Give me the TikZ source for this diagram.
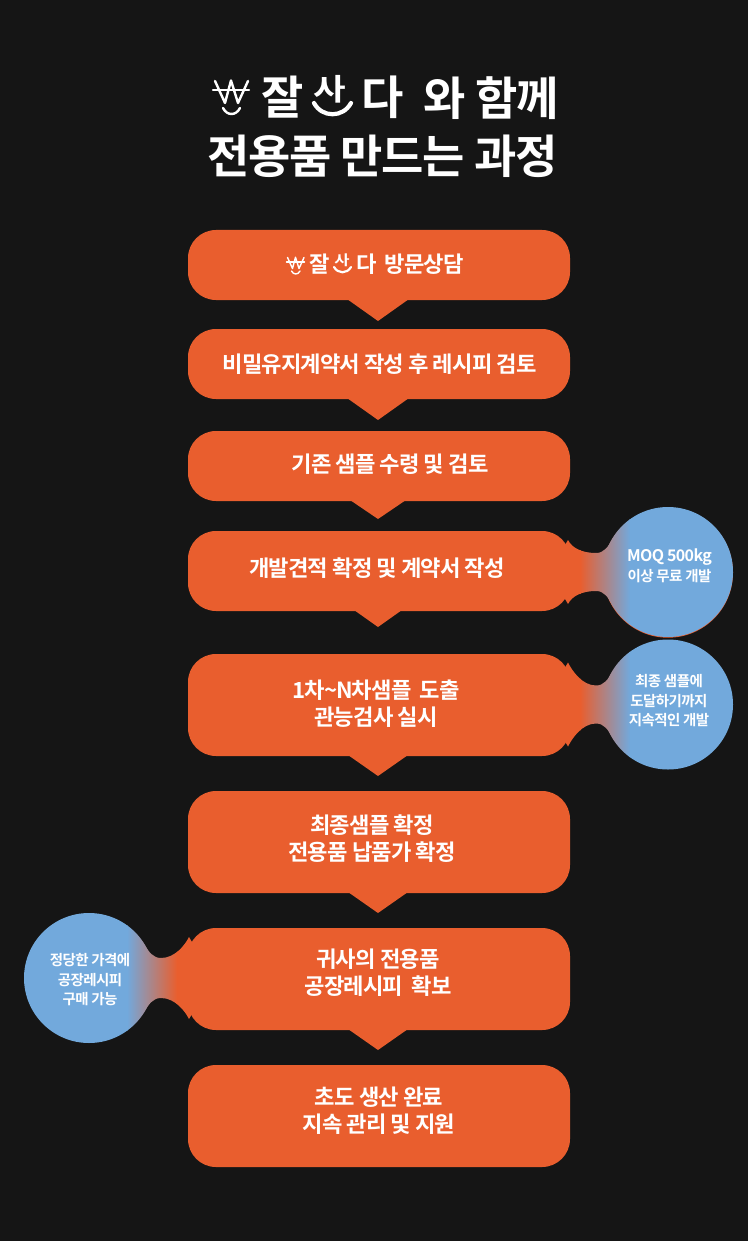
\documentclass[tikz,border=0pt]{standalone}
\usepackage{fontspec}
\setmainfont{Noto Sans CJK KR}
\newfontfamily\krb[LetterSpace=-3]{Noto Sans CJK KR Bold}
\newfontfamily\krt[LetterSpace=-4]{Noto Sans CJK KR Bold}
\newfontfamily\krwide[FakeStretch=1.18]{Noto Sans CJK KR Bold}
\definecolor{bgc}{HTML}{151515}
\definecolor{orc}{HTML}{E95E2E}
\definecolor{blc}{HTML}{72A9DC}
\tikzset{
 flowbox/.style={fill=orc,rounded corners=28pt,minimum width=382pt,inner sep=0pt,outer sep=0pt},
 boxtext/.style={text=white,align=center,inner sep=0pt,font=\krt\fontsize{22.2}{27.5}\selectfont},
 titletext/.style={text=white,align=center,inner sep=0pt,font=\krb\fontsize{46}{56}\selectfont},
 bubtext/.style={text=white,align=center,inner sep=0pt,font=\krt\fontsize{14.5}{19.5}\selectfont},
 orb/.style={circle,minimum size=130pt,inner sep=0pt,outer sep=0pt},
 logoline/.style={draw=white,line cap=round,line join=round,fill=none},
}
\newcommand{\ptr}[3]{\fill[orc] (#1.south) ++(-1-#2,-1) -- ++(#2,#3+1) -- ++(#2,-#3-1) -- cycle;}
% gradient in local coordinates (circle centre = origin); #1,#2 = page-left and page-right colours
\newcommand{\gradfill}[2]{%
 \fill[orc] (-125,-90) rectangle (-87.5,90);
 \fill[blc] (-39,-90) rectangle (70,90);
 \shade[left color=#1,right color=#2] (-88,-90) rectangle (-38,90);}
% #1 spike offset, #2 neck offset, #3 #4 colours
\newcommand{\bubshape}[4]{%
 \begin{scope}
  \clip (0,0) circle[radius=65];
  \gradfill{#3}{#4}
 \end{scope}
 \begin{scope}
  \clip (-106,-#1+10) -- (-100,-#1) .. controls (-96,-#1+8) and (-86,-#2) .. (-72,-#2)
   .. controls (-64,-#2) and (-60,-#2-6) .. (-55,-34) -- (-40,0) -- (-55,34)
   .. controls (-60,#2+6) and (-64,#2) .. (-72,#2)
   .. controls (-86,#2) and (-96,#1-8) .. (-100,#1) -- (-106,#1-10) -- cycle;
  \gradfill{#3}{#4}
 \end{scope}}
\newcommand{\wonmark}[1]{%
 \draw[logoline,line width=#1] (3,1) -- (13,23) -- (19,0.5) -- (26,23) -- (36,1);
 \draw[logoline,line width=#1] (1,10) -- (37,10);
 \draw[logoline,line width=#1] (11,28) .. controls (15,36) and (24,36) .. (28,28);}
\begin{document}
\begin{tikzpicture}[x=1pt,y=-1pt]
\useasboundingbox (0,0) rectangle (748,1241);
\fill[bgc] (0,0) rectangle (748,1241);

% title
\begin{scope}[shift={(212,80)}]\wonmark{2.4pt}\end{scope}
\node[titletext] (tja) at (283,97) {잘};
\node[titletext,font=\krwide\fontsize{30}{30}\selectfont] (tsa) at (330,89) {사};
\draw[logoline,line width=4.2pt] (314,103) .. controls (322,118) and (343,118) .. (351,103);
\node[titletext] (tda) at (383,97) {다};
\node[titletext] (t1) at (491,98) {와 함께};
\node[titletext] (t2) at (382.5,156) {전용품 만드는 과정};

% boxes
\node[flowbox,minimum height=70pt] (b1) at (379,265) {};
\node[flowbox,minimum height=70pt] (b2) at (379,364) {};
\node[flowbox,minimum height=70pt] (b3) at (379,466) {};
\node[flowbox,minimum height=80pt] (b4) at (379,571) {};
\node[flowbox,minimum height=102pt] (b5) at (379,705) {};
\node[flowbox,minimum height=102pt] (b6) at (379,842) {};
\node[flowbox,minimum height=102pt] (b7) at (379,979) {};
\node[flowbox,minimum height=102pt] (b8) at (379,1116) {};

\ptr{b1}{31}{21}
\ptr{b2}{31}{21}
\ptr{b3}{28}{18}
\ptr{b4}{24}{16}
\ptr{b5}{30}{20}
\ptr{b6}{30}{20}
\ptr{b7}{30}{20}

% bubbles
\node[orb,fill=orc] (q1) at (668,572.7) {};
\begin{scope}[shift={(668,572)}]\bubshape{32}{19}{orc}{blc}\end{scope}
\begin{scope}[shift={(668,704.5)}]\bubshape{42}{19}{orc}{blc}\end{scope}
\begin{scope}[shift={(89,978)},xscale=-1]\bubshape{41}{20}{blc}{orc}\end{scope}
\node[orb] (q2) at (668,704.5) {};
\node[orb] (q3) at (89,978) {};

\node[bubtext] (q1t) at (669.5,566) {{\fontsize{16}{19.5}\selectfont MOQ 500kg}\\이상 무료 개발};
\node[bubtext] (q2t) at (669,701) {최종 샘플에\\도달하기까지\\지속적인 개발};
\node[bubtext] (q3t) at (90,980) {정당한 가격에\\공장레시피\\구매 가능};

% box 1 logo text
\begin{scope}[shift={(286,257)},scale=0.5]\wonmark{1.4pt}\end{scope}
\node[boxtext] (lja) at (320,264.5) {잘};
\node[boxtext,font=\krwide\fontsize{14}{14}\selectfont] (lsa) at (342,260) {사};
\draw[logoline,line width=2.2pt] (334,267) .. controls (338,274) and (347,274) .. (351,267);
\node[boxtext] (lda) at (367,264.5) {다};
\node[boxtext] (x1) at (424,264.5) {방문상담};

\node[boxtext] (x2) at (379.5,364) {비밀유지계약서 작성 후 레시피 검토};
\node[boxtext] (x3) at (390,464.5) {기존 샘플 수령 및 검토};
\node[boxtext] (x4) at (377,568.5) {개발견적 확정 및 계약서 작성};
\node[boxtext] (x5) at (376,703.5) {1차\char`\~N차샘플 \ 도출\\관능검사 실시};
\node[boxtext] (x6) at (372,838.5) {최종샘플 확정\\전용품 납품가 확정};
\node[boxtext] (x7) at (378,972.5) {귀사의 전용품\\공장레시피 \ 확보};
\node[boxtext] (x8) at (379,1110.5) {초도 생산 완료\\지속 관리 및 지원};
\end{tikzpicture}
\end{document}
